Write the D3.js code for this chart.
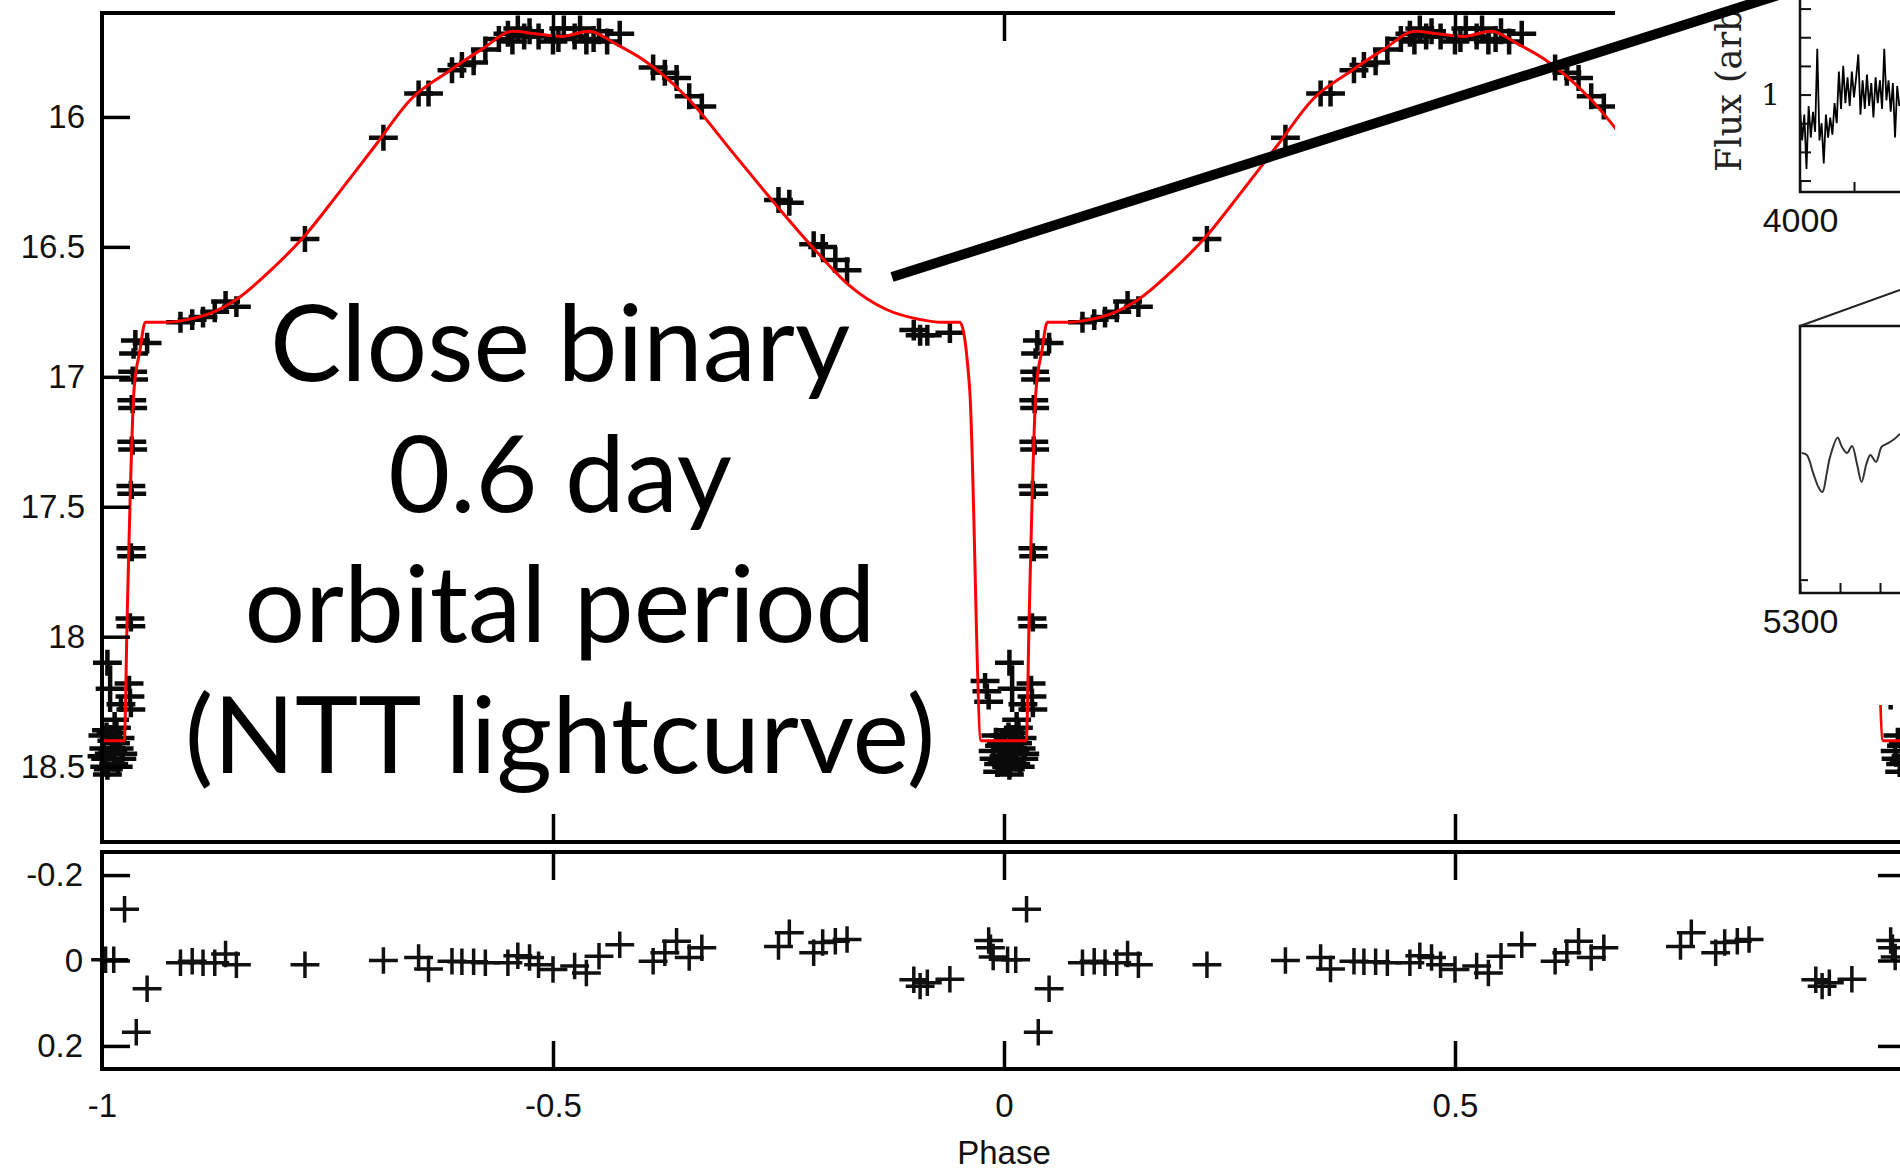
<!DOCTYPE html>
<html>
<head>
<meta charset="utf-8">
<script src="https://cdn.jsdelivr.net/npm/d3@7"></script>
<style>
  body { margin: 0; background: #fff; }
  svg { display: block; }
</style>
</head>
<body>
<div id="chart"></div>
<script>

// Model light curve for one orbit (phase 0 -> 1), magnitudes
var modelPhase = [0, 0.0247, 0.028, 0.0355, 0.042, 0.048, 0.07, 0.095, 0.124, 0.154, 0.184, 0.224,
	0.263, 0.303, 0.343, 0.382, 0.421, 0.456, 0.481, 0.51, 0.54, 0.57, 0.6, 0.65, 0.7, 0.75,
	0.79, 0.829, 0.869, 0.908, 0.93, 0.951, 0.962, 0.9746, 1.0];
var modelMag = [18.40, 18.40, 17.91, 17.05, 16.90, 16.79, 16.79, 16.78, 16.75, 16.69, 16.60, 16.46,
	16.29, 16.11, 15.93, 15.83, 15.74, 15.67, 15.68, 15.69, 15.67, 15.72, 15.78, 15.93, 16.14, 16.35,
	16.51, 16.65, 16.74, 16.78, 16.79, 16.79, 17.05, 18.40, 18.40];

// NTT photometry folded on one orbit (phase -0.5 -> 0.5)
var obsPhase = [-0.500, -0.494, -0.488, -0.476, -0.470, -0.463, -0.455, -0.449, -0.440, -0.426,
	-0.389, -0.376, -0.363, -0.349, -0.335,
	-0.250, -0.238, -0.211, -0.201, -0.187, -0.174, -0.100, -0.093, -0.085, -0.060,
	-0.021, -0.019, -0.017,
	-0.012, -0.009, -0.006, -0.003, 0.000, 0.003, 0.005, 0.008, 0.011, 0.013, 0.016, 0.019, 0.022, -0.007, 0.006, 0.014, 0.002,
	-0.011, -0.005, 0.001, 0.004, 0.007, 0.010, 0.012, 0.015, 0.018, 0.020, 0.023, -0.002,
	0.006, 0.009, 0.021, 0.030, 0.031, 0.032,
	0.031, 0.032, 0.032, 0.033, 0.032, 0.033, 0.033, 0.034, 0.033, 0.034, 0.034, 0.035, 0.035, 0.037,
	0.050, 0.087, 0.100, 0.112, 0.125, 0.137, 0.149, 0.225, 0.312, 0.351, 0.362, 0.388, 0.399, 0.412,
	0.425, 0.440, 0.450, 0.455, 0.461, 0.468, 0.474, 0.484];
var obsMag = [15.71, 15.70, 15.66, 15.69, 15.66, 15.71, 15.70, 15.67, 15.71, 15.68,
	15.81, 15.83, 15.85, 15.92, 15.96,
	16.32, 16.33, 16.49, 16.50, 16.55, 16.59, 16.82, 16.84, 16.84, 16.83,
	18.17, 18.21, 18.25,
	18.44, 18.38, 18.49, 18.41, 18.46, 18.50, 18.36, 18.45, 18.40, 18.49, 18.35, 18.43, 18.47, 18.52, 18.53, 18.32, 18.43,
	18.47, 18.42, 18.38, 18.47, 18.51, 18.37, 18.44, 18.41, 18.50, 18.39, 18.45, 18.48,
	18.10, 18.20, 18.26, 18.18, 18.23, 18.28,
	17.93, 17.96, 17.66, 17.69, 17.42, 17.45, 17.25, 17.28, 17.09, 17.12, 16.98, 17.01, 16.91, 16.86,
	16.87, 16.79, 16.78, 16.77, 16.75, 16.71, 16.73, 16.47, 16.08, 15.91, 15.91, 15.82, 15.80, 15.79,
	15.74, 15.70, 15.68, 15.71, 15.66, 15.69, 15.67, 15.69];
var obsMagErr = [0.05, 0.05, 0.05, 0.05, 0.05, 0.05, 0.05, 0.05, 0.05, 0.05,
	0.05, 0.05, 0.05, 0.05, 0.05,
	0.05, 0.05, 0.05, 0.05, 0.05, 0.05, 0.04, 0.04, 0.04, 0.04,
	0.03, 0.03, 0.03,
	0.03, 0.03, 0.03, 0.03, 0.03, 0.03, 0.03, 0.03, 0.03, 0.03, 0.03, 0.03, 0.03, 0.02, 0.02, 0.03, 0.03,
	0.03, 0.03, 0.03, 0.03, 0.03, 0.03, 0.03, 0.03, 0.03, 0.03, 0.03, 0.03,
	0.05, 0.09, 0.03, 0.03, 0.03, 0.03,
	0.02, 0.02, 0.02, 0.02, 0.02, 0.02, 0.02, 0.02, 0.02, 0.02, 0.02, 0.02, 0.02, 0.04,
	0.04, 0.04, 0.04, 0.04, 0.04, 0.04, 0.04, 0.05, 0.05, 0.05, 0.05, 0.05, 0.05, 0.05,
	0.05, 0.05, 0.05, 0.05, 0.05, 0.05, 0.05, 0.05];

// Residuals (observed - model) on the same folding
var resPhase = [-0.500, -0.476, -0.463, -0.449, -0.426, -0.389, -0.376, -0.363, -0.349, -0.335,
	-0.250, -0.238, -0.211, -0.201, -0.187, -0.174, -0.100, -0.093, -0.085, -0.060,
	-0.017, -0.015, -0.012, 0.004, 0.013, 0.025, 0.038, 0.050,
	0.087, 0.100, 0.112, 0.125, 0.137, 0.149, 0.225, 0.312, 0.351, 0.362, 0.388, 0.399, 0.412,
	0.425, 0.450, 0.461, 0.474, 0.484];
var resMag = [0.021, 0.013, 0.029, -0.010, -0.037, 0.002, -0.018, -0.045, -0.007, -0.030,
	-0.033, -0.065, -0.018, -0.042, -0.045, -0.049, 0.045, 0.060, 0.052, 0.044,
	-0.047, -0.030, -0.008, -0.002, -0.002, -0.120, 0.168, 0.066,
	0.005, 0.002, 0.005, 0.005, -0.015, 0.010, 0.010, 0.000, -0.007, 0.020, 0.002, 0.003, 0.003,
	0.005, 0.005, -0.011, -0.007, 0.010];
var resErr = 0.031;
var binHalfWidth = 0.016;

var magTicks = [16, 16.5, 17, 17.5, 18, 18.5];
var resTicks = [-0.2, 0, 0.2];
var phaseTicks = [-1, -0.5, 0, 0.5];
var noteLines = ["Close binary", "0.6 day", "orbital period", "(NTT lightcurve)"];

// spectra of the central star (inset): blue spectrum and a zoom near 5300 A
var blueWave = [4000, 4020, 4040, 4060, 4080, 4100, 4120, 4140, 4160, 4180, 4200, 4220, 4240, 4260,
	4280, 4300, 4320, 4340, 4360, 4380, 4400, 4420, 4440, 4460, 4480, 4500, 4520, 4540, 4560, 4580,
	4600, 4620, 4640, 4660, 4680, 4700, 4720, 4740, 4760, 4780, 4800, 4820, 4840, 4860, 4880, 4900, 4920];
var blueFlux = [0.95, 0.84, 0.93, 0.74, 0.96, 0.85, 0.94, 0.87, 1.16, 0.84, 0.90, 0.76, 0.93, 0.85,
	0.92, 0.86, 0.97, 0.90, 1.08, 0.95, 1.10, 0.97, 1.06, 0.96, 1.08, 0.99, 1.06, 1.14, 0.93, 1.05,
	0.95, 1.07, 0.96, 1.04, 0.92, 1.06, 0.97, 1.05, 0.95, 1.16, 0.98, 1.05, 0.94, 1.04, 0.85, 1.03, 0.96];
var zoomWave = [5300.8, 5303.4, 5306.6, 5309.2, 5311.2, 5313.4, 5315.0, 5318.8, 5321.0, 5323.5,
	5326.0, 5328.5, 5330.8, 5333.2, 5335.2, 5338.0, 5340.8, 5343.2, 5346.5, 5350.0];
var zoomFlux = [0.524, 0.517, 0.449, 0.397, 0.378, 0.449, 0.509, 0.581, 0.547, 0.524,
	0.551, 0.483, 0.416, 0.483, 0.517, 0.491, 0.547, 0.558, 0.573, 0.596];


var width = 1900;
var height = 1170;

var canvas = d3.select("#chart")
	.append("svg")
	.attr("width", width)
	.attr("height", height);

// panel geometry
var plotLeft = 102, plotRight = 1906;
var mainTop = 13, mainBottom = 842;
var resTop = 852, resBottom = 1069;
var tickLen = 28;
var tickFont = "'Liberation Sans', Arial, Helvetica, sans-serif";

var xScale = d3.scaleLinear().domain([-1, 1]).range([plotLeft, plotRight]);
var yMag = d3.scaleLinear().domain([15.6, 18.79]).range([mainTop, mainBottom]);
var yRes = d3.scaleLinear().domain([-0.254, 0.254]).range([resTop, resBottom]);


// repeat one orbit over phase -1 .. 1
function unfold(phases, values, errs) {
	var out = [];
	[-1, 0, 1].forEach(function(c) {
		for (var i = 0; i < phases.length; i++) {
			var p = phases[i] + c;
			if (p >= -1 && p <= 1)
				out.push({p: p, v: values[i], e: Array.isArray(errs) ? errs[i] : errs});
		}
	});
	return out;
}

function crossPath(ys) {
	return function(d) {
		var cx = xScale(d.p), cy = ys(d.v);
		return "M" + xScale(d.p - binHalfWidth) + "," + cy + "H" + xScale(d.p + binHalfWidth)
			+ "M" + cx + "," + ys(d.v - d.e) + "V" + ys(d.v + d.e);
	};
}


// light curve points
canvas.append("g")
	.selectAll("path")
	.data(unfold(obsPhase, obsMag, obsMagErr))
	.enter()
	.append("path")
	.attr("d", crossPath(yMag))
	.attr("fill", "none")
	.attr("stroke", "#0a0a0a")
	.attr("stroke-width", 4.5);

// model curve, drawn for both orbits
var modelLine = d3.line()
	.x(function(d) { return xScale(d.p); })
	.y(function(d) { return yMag(d.v); })
	.curve(d3.curveMonotoneX);

[-1, 0].forEach(function(c) {
	var pts = modelPhase.map(function(p, i) { return {p: p + c, v: modelMag[i]}; });
	canvas.append("path")
		.datum(pts)
		.attr("d", modelLine)
		.attr("fill", "none")
		.attr("stroke", "#ff0000")
		.attr("stroke-width", 3);
});

// residual points
canvas.append("g")
	.selectAll("path")
	.data(unfold(resPhase, resMag, resErr))
	.enter()
	.append("path")
	.attr("d", crossPath(yRes))
	.attr("fill", "none")
	.attr("stroke", "#111")
	.attr("stroke-width", 3.5);


// frames
[[mainTop, mainBottom], [resTop, resBottom]].forEach(function(r) {
	canvas.append("rect")
		.attr("x", plotLeft)
		.attr("y", r[0])
		.attr("width", plotRight - plotLeft)
		.attr("height", r[1] - r[0])
		.attr("fill", "none")
		.attr("stroke", "#000")
		.attr("stroke-width", 4);
});

function styleAxis(g) {
	g.select(".domain").remove();
	g.selectAll(".tick line").attr("stroke", "#000").attr("stroke-width", 3.5);
	g.selectAll(".tick text")
		.attr("fill", "#111")
		.style("font-family", tickFont)
		.style("font-size", "33px");
}

var fmt = function(d) { return String(d); };
var innerPhase = [-0.5, 0, 0.5];

canvas.append("g")
	.attr("transform", "translate(" + plotLeft + ",0)")
	.call(d3.axisLeft(yMag).tickValues(magTicks).tickSizeInner(-tickLen).tickSizeOuter(0)
		.tickPadding(17).tickFormat(fmt))
	.call(styleAxis);

canvas.append("g")
	.attr("transform", "translate(0," + mainTop + ")")
	.call(d3.axisTop(xScale).tickValues(innerPhase).tickSizeInner(-tickLen).tickSizeOuter(0).tickFormat(""))
	.call(styleAxis);

canvas.append("g")
	.attr("transform", "translate(0," + mainBottom + ")")
	.call(d3.axisBottom(xScale).tickValues(innerPhase).tickSizeInner(-tickLen).tickSizeOuter(0).tickFormat(""))
	.call(styleAxis);

canvas.append("g")
	.attr("transform", "translate(0," + resTop + ")")
	.call(d3.axisTop(xScale).tickValues(innerPhase).tickSizeInner(-tickLen).tickSizeOuter(0).tickFormat(""))
	.call(styleAxis);

canvas.append("g")
	.attr("transform", "translate(0," + resBottom + ")")
	.call(d3.axisBottom(xScale).tickValues(phaseTicks).tickSizeInner(-tickLen).tickSizeOuter(0)
		.tickPadding(25).tickFormat(fmt))
	.call(styleAxis);
// the tick at -1 coincides with the frame edge
canvas.selectAll(".tick").filter(function(d) { return d === -1; }).select("line").remove();

canvas.append("g")
	.attr("transform", "translate(" + plotLeft + ",0)")
	.call(d3.axisLeft(yRes).tickValues(resTicks).tickSizeInner(-tickLen).tickSizeOuter(0)
		.tickPadding(19).tickFormat(fmt))
	.call(styleAxis);

canvas.append("g")
	.attr("transform", "translate(" + plotRight + ",0)")
	.call(d3.axisRight(yRes).tickValues(resTicks).tickSizeInner(-tickLen).tickSizeOuter(0).tickFormat(""))
	.call(styleAxis);

canvas.append("text")
	.attr("x", xScale(0))
	.attr("y", 1164)
	.attr("text-anchor", "middle")
	.attr("fill", "#111")
	.style("font-family", tickFont)
	.style("font-size", "33px")
	.text("Phase");


// annotation
canvas.append("g")
	.selectAll("text")
	.data(noteLines)
	.enter()
	.append("text")
	.attr("x", 560)
	.attr("y", function(d, i) { return 381 + i * 130.5; })
	.attr("text-anchor", "middle")
	.attr("fill", "#000")
	.style("font-family", "Lato, 'Open Sans', sans-serif")
	.style("font-size", "107px")
	.text(function(d) { return d; });


// inset with the spectra sits over the right end of the light curve
canvas.append("rect")
	.attr("x", 1615)
	.attr("y", 0)
	.attr("width", width - 1615)
	.attr("height", 705)
	.attr("fill", "#fff");

var specLeft = 1800;
var xBlue = d3.scaleLinear().domain([4000, 4500]).range([specLeft, 1854]);
var yBlue = d3.scaleLinear().domain([0.66, 1.33]).range([192, 0]);
var xZoom = d3.scaleLinear().domain([5300, 5350]).range([specLeft, 1900]);
var yZoom = d3.scaleLinear().domain([0, 1]).range([593, 326]);

function styleInset(g, size) {
	g.select(".domain").remove();
	g.selectAll(".tick line").attr("stroke", "#111").attr("stroke-width", 2);
	g.selectAll(".tick text").attr("fill", "#111").style("font-size", size);
}

// blue spectrum panel
canvas.append("path")
	.datum(blueWave.map(function(w, i) { return [xBlue(w), yBlue(blueFlux[i])]; }))
	.attr("d", d3.line())
	.attr("fill", "none")
	.attr("stroke", "#000")
	.attr("stroke-width", 1.8);

canvas.append("g")
	.attr("transform", "translate(" + specLeft + ",0)")
	.call(d3.axisLeft(yBlue).tickValues([0.7, 0.8, 0.9, 1.0, 1.1, 1.2, 1.3]).tickSizeInner(-11)
		.tickSizeOuter(0).tickPadding(20).tickFormat(function(d) { return d === 1 ? "1" : ""; }))
	.call(styleInset, "30px")
	.selectAll(".tick text").style("font-family", "'DejaVu Serif', serif");

canvas.append("g")
	.attr("transform", "translate(0,192)")
	.call(d3.axisBottom(xBlue).tickValues([4000, 4500]).tickSizeInner(-10).tickSizeOuter(0)
		.tickPadding(16).tickFormat(function(d) { return d === 4000 ? "4000" : ""; }))
	.call(styleInset, "34px")
	.selectAll(".tick text").style("font-family", tickFont);

canvas.append("path")
	.attr("d", "M" + specLeft + ",0V192H1900")
	.attr("fill", "none")
	.attr("stroke", "#111")
	.attr("stroke-width", 2.5);

canvas.append("text")
	.attr("transform", "translate(1741,172) rotate(-90)")
	.attr("fill", "#222")
	.style("font-family", "'DejaVu Serif', serif")
	.style("font-size", "35px")
	.text("Flux (arb");

// zoomed spectrum panel
canvas.append("path")
	.datum(zoomWave.map(function(w, i) { return [xZoom(w), yZoom(zoomFlux[i])]; }))
	.attr("d", d3.line().curve(d3.curveCatmullRom))
	.attr("fill", "none")
	.attr("stroke", "#333")
	.attr("stroke-width", 2);

canvas.append("g")
	.attr("transform", "translate(0,593)")
	.call(d3.axisBottom(xZoom).tickValues([5300, 5320, 5340]).tickSizeInner(-10).tickSizeOuter(0)
		.tickPadding(16).tickFormat(function(d) { return d === 5300 ? "5300" : ""; }))
	.call(styleInset, "34px")
	.selectAll(".tick text").style("font-family", tickFont);

canvas.append("g")
	.attr("transform", "translate(" + specLeft + ",0)")
	.call(d3.axisLeft(yZoom).tickValues([0.05]).tickSizeInner(-8).tickSizeOuter(0).tickFormat(""))
	.call(styleInset, "30px");

canvas.append("path")
	.attr("d", "M1900," + yZoom(1) + "H" + specLeft + "V" + yZoom(0) + "H1900")
	.attr("fill", "none")
	.attr("stroke", "#111")
	.attr("stroke-width", 2.5);

canvas.append("line")
	.attr("x1", specLeft).attr("y1", yZoom(1))
	.attr("x2", 1900).attr("y2", 290)
	.attr("stroke", "#222")
	.attr("stroke-width", 2);

// pointer from the light curve to the spectra
canvas.append("line")
	.attr("x1", 892).attr("y1", 277)
	.attr("x2", 1810).attr("y2", -15)
	.attr("stroke", "#000")
	.attr("stroke-width", 10);

</script>
</body>
</html>
